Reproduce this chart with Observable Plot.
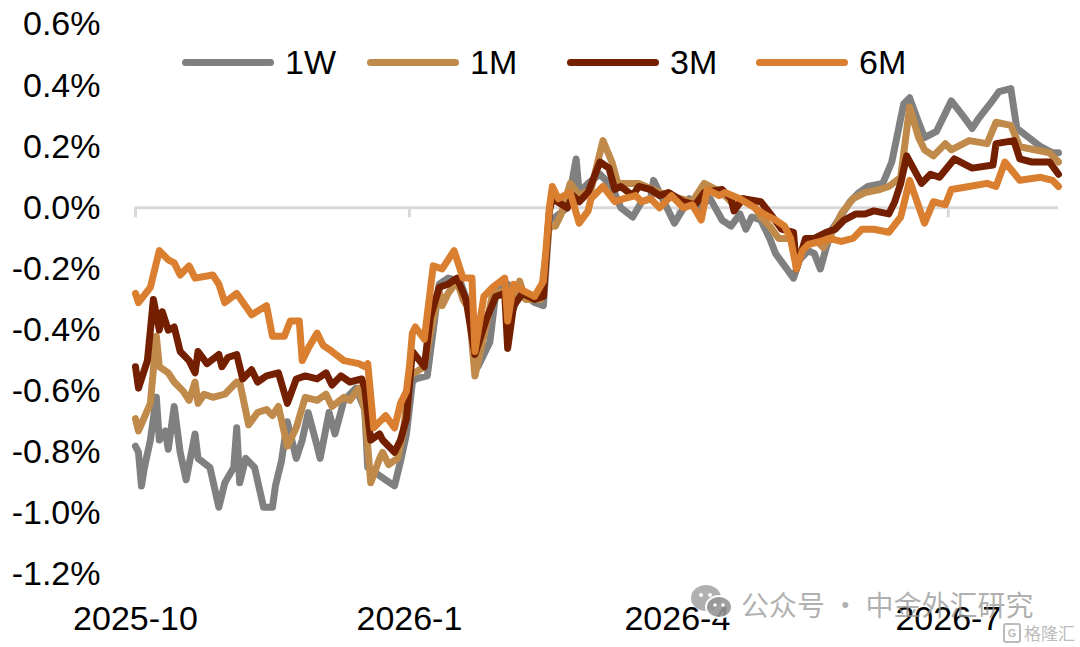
<!DOCTYPE html>
<html><head><meta charset="utf-8">
<script src="https://cdn.jsdelivr.net/npm/d3@7"></script>
<script src="https://cdn.jsdelivr.net/npm/@observablehq/plot@0.6"></script>
<style>
body{margin:0;background:#fff;}
#wrap{position:relative;width:1080px;height:647px;font-family:"Liberation Sans",Arial,sans-serif;overflow:hidden;}
.leg{position:absolute;top:44px;height:36px;display:flex;align-items:center;font-size:34px;color:#000;}
.leg .sw{width:92px;height:7px;border-radius:4px;margin-right:11px;}
.wm{position:absolute;left:741px;top:584px;font-family:"Noto Sans CJK SC",sans-serif;font-size:28px;color:rgba(150,150,150,0.75);white-space:nowrap;}
.wmicon{position:absolute;left:690px;top:584px;}
.glh{position:absolute;left:1003px;top:620px;font-family:"Noto Sans CJK SC",sans-serif;font-size:17px;color:rgba(170,170,170,0.8);display:flex;align-items:center;white-space:nowrap;}
.glh .g{width:14px;height:16px;border:2px solid rgba(170,170,170,0.8);border-radius:3px;font-size:11px;line-height:16px;text-align:center;margin-right:3px;font-family:"Liberation Sans",sans-serif;font-weight:bold;}
</style></head><body><div id="wrap"></div>
<script>
const seriesNames = ["1W", "1M", "3M", "6M"];
const seriesColors = ["#808080", "#C08A4A", "#741F00", "#DA7E2F"];
const xTickLabels = ["2025-10", "2026-1", "2026-4", "2026-7"];
const yTicks = [-1.2, -1.0, -0.8, -0.6, -0.4, -0.2, 0.0, 0.2, 0.4, 0.6];
const yTickLabels = ["-1.2%", "-1.0%", "-0.8%", "-0.6%", "-0.4%", "-0.2%", "0.0%", "0.2%", "0.4%", "0.6%"];
const xStart = "2025-10-01", xEnd = "2026-08-07";

const w1 = [
["2025-10-01",-0.78],["2025-10-02",-0.80],["2025-10-03",-0.91],["2025-10-04",-0.85],["2025-10-06",-0.76],["2025-10-08",-0.62],
["2025-10-09",-0.76],["2025-10-11",-0.73],["2025-10-12",-0.79],["2025-10-14",-0.65],["2025-10-16",-0.80],["2025-10-18",-0.89],
["2025-10-21",-0.74],["2025-10-22",-0.82],["2025-10-26",-0.85],["2025-10-29",-0.98],["2025-10-31",-0.90],["2025-11-03",-0.85],
["2025-11-04",-0.72],["2025-11-05",-0.90],["2025-11-07",-0.82],["2025-11-10",-0.85],["2025-11-13",-0.98],["2025-11-16",-0.98],
["2025-11-17",-0.91],["2025-11-19",-0.83],["2025-11-21",-0.70],["2025-11-24",-0.82],["2025-11-26",-0.76],["2025-11-28",-0.67],
["2025-12-01",-0.78],["2025-12-02",-0.82],["2025-12-05",-0.67],["2025-12-07",-0.74],["2025-12-10",-0.63],["2025-12-14",-0.59],
["2025-12-17",-0.66],["2025-12-18",-0.85],["2025-12-21",-0.87],["2025-12-24",-0.89],["2025-12-27",-0.91],["2025-12-29",-0.83],
["2025-12-31",-0.74],["2026-01-02",-0.57],["2026-01-03",-0.56],["2026-01-07",-0.55],["2026-01-09",-0.40],["2026-01-11",-0.25],
["2026-01-14",-0.23],["2026-01-18",-0.24],["2026-01-21",-0.32],["2026-01-24",-0.52],["2026-01-28",-0.44],["2026-01-30",-0.28],
["2026-02-03",-0.25],["2026-02-05",-0.33],["2026-02-07",-0.27],["2026-02-12",-0.31],["2026-02-15",-0.32],["2026-02-17",-0.04],
["2026-02-19",-0.03],["2026-02-23",0.00],["2026-02-26",0.16],["2026-02-27",0.05],["2026-03-02",0.08],["2026-03-06",0.11],
["2026-03-10",0.07],["2026-03-13",0.00],["2026-03-17",-0.03],["2026-03-20",0.02],["2026-03-23",0.03],["2026-03-24",0.09],
["2026-03-27",0.03],["2026-03-31",-0.05],["2026-04-05",0.03],["2026-04-08",0.00],["2026-04-12",0.03],["2026-04-16",-0.04],
["2026-04-19",-0.06],["2026-04-22",-0.02],["2026-04-24",-0.07],["2026-04-26",-0.03],["2026-04-29",-0.04],["2026-05-02",-0.10],
["2026-05-04",-0.15],["2026-05-07",-0.19],["2026-05-10",-0.23],["2026-05-12",-0.17],["2026-05-15",-0.14],["2026-05-17",-0.15],
["2026-05-19",-0.20],["2026-05-21",-0.13],["2026-05-23",-0.07],["2026-05-25",-0.04],["2026-05-29",0.02],["2026-06-01",0.05],
["2026-06-04",0.07],["2026-06-09",0.08],["2026-06-12",0.15],["2026-06-16",0.34],["2026-06-18",0.36],["2026-06-21",0.28],
["2026-06-23",0.23],["2026-06-27",0.25],["2026-06-30",0.31],["2026-07-02",0.35],["2026-07-06",0.30],["2026-07-09",0.26],
["2026-07-11",0.29],["2026-07-15",0.34],["2026-07-18",0.38],["2026-07-22",0.39],["2026-07-24",0.26],["2026-07-28",0.23],
["2026-08-01",0.20],["2026-08-05",0.18],["2026-08-07",0.18]
];

const m1 = [
["2025-10-01",-0.69],["2025-10-02",-0.73],["2025-10-06",-0.64],["2025-10-08",-0.42],["2025-10-09",-0.52],["2025-10-12",-0.54],
["2025-10-14",-0.57],["2025-10-17",-0.60],["2025-10-19",-0.63],["2025-10-21",-0.57],["2025-10-22",-0.64],["2025-10-24",-0.61],
["2025-10-27",-0.62],["2025-10-31",-0.61],["2025-11-04",-0.57],["2025-11-05",-0.57],["2025-11-08",-0.71],["2025-11-11",-0.67],
["2025-11-14",-0.66],["2025-11-16",-0.68],["2025-11-18",-0.65],["2025-11-21",-0.78],["2025-11-24",-0.72],["2025-11-27",-0.62],
["2025-12-01",-0.63],["2025-12-04",-0.61],["2025-12-06",-0.65],["2025-12-10",-0.62],["2025-12-12",-0.63],["2025-12-15",-0.59],
["2025-12-17",-0.66],["2025-12-19",-0.90],["2025-12-22",-0.82],["2025-12-23",-0.80],["2025-12-25",-0.84],["2025-12-28",-0.82],
["2025-12-30",-0.73],["2026-01-01",-0.55],["2026-01-06",-0.52],["2026-01-08",-0.41],["2026-01-11",-0.27],["2026-01-12",-0.32],
["2026-01-14",-0.28],["2026-01-17",-0.24],["2026-01-19",-0.30],["2026-01-21",-0.33],["2026-01-23",-0.55],["2026-01-26",-0.42],
["2026-01-29",-0.28],["2026-02-03",-0.27],["2026-02-05",-0.32],["2026-02-07",-0.24],["2026-02-09",-0.30],["2026-02-14",-0.30],
["2026-02-17",-0.06],["2026-02-19",-0.06],["2026-02-21",-0.02],["2026-02-24",0.08],["2026-02-27",0.04],["2026-03-03",0.06],
["2026-03-07",0.22],["2026-03-10",0.15],["2026-03-12",0.08],["2026-03-19",0.08],["2026-03-26",0.05],["2026-04-02",0.03],
["2026-04-06",0.02],["2026-04-10",0.08],["2026-04-16",0.05],["2026-04-19",0.02],["2026-04-23",0.03],["2026-04-26",0.02],
["2026-04-29",-0.03],["2026-05-02",-0.06],["2026-05-05",-0.10],["2026-05-09",-0.10],["2026-05-11",-0.18],["2026-05-14",-0.11],
["2026-05-17",-0.10],["2026-05-20",-0.13],["2026-05-23",-0.08],["2026-05-26",-0.02],["2026-05-30",0.03],["2026-06-03",0.05],
["2026-06-08",0.06],["2026-06-11",0.07],["2026-06-15",0.10],["2026-06-18",0.33],["2026-06-21",0.23],["2026-06-23",0.19],
["2026-06-26",0.17],["2026-06-30",0.21],["2026-07-02",0.19],["2026-07-08",0.22],["2026-07-14",0.21],["2026-07-17",0.28],
["2026-07-22",0.27],["2026-07-25",0.20],["2026-07-30",0.19],["2026-08-04",0.18],["2026-08-07",0.15]
];

const m3 = [
["2025-10-01",-0.52],["2025-10-02",-0.59],["2025-10-05",-0.50],["2025-10-07",-0.30],["2025-10-09",-0.40],["2025-10-10",-0.34],
["2025-10-12",-0.40],["2025-10-14",-0.39],["2025-10-16",-0.47],["2025-10-19",-0.50],["2025-10-21",-0.54],["2025-10-22",-0.47],
["2025-10-25",-0.51],["2025-10-29",-0.48],["2025-10-30",-0.52],["2025-11-01",-0.49],["2025-11-04",-0.48],["2025-11-06",-0.56],
["2025-11-09",-0.53],["2025-11-11",-0.57],["2025-11-14",-0.55],["2025-11-18",-0.54],["2025-11-21",-0.64],["2025-11-24",-0.56],
["2025-11-27",-0.55],["2025-12-01",-0.56],["2025-12-04",-0.54],["2025-12-06",-0.58],["2025-12-09",-0.55],["2025-12-12",-0.57],
["2025-12-16",-0.56],["2025-12-17",-0.59],["2025-12-19",-0.76],["2025-12-22",-0.74],["2025-12-23",-0.76],["2025-12-27",-0.80],
["2025-12-29",-0.76],["2025-12-31",-0.69],["2026-01-02",-0.47],["2026-01-06",-0.52],["2026-01-08",-0.36],["2026-01-11",-0.26],
["2026-01-14",-0.25],["2026-01-17",-0.23],["2026-01-20",-0.30],["2026-01-23",-0.48],["2026-01-27",-0.36],["2026-01-30",-0.29],
["2026-02-02",-0.28],["2026-02-03",-0.46],["2026-02-05",-0.32],["2026-02-08",-0.28],["2026-02-12",-0.30],["2026-02-15",-0.29],
["2026-02-17",-0.01],["2026-02-18",0.03],["2026-02-23",0.00],["2026-02-25",0.04],["2026-02-27",0.02],["2026-03-02",0.05],
["2026-03-06",0.15],["2026-03-09",0.13],["2026-03-11",0.06],["2026-03-13",0.07],["2026-03-17",0.04],["2026-03-19",0.07],
["2026-03-23",0.06],["2026-03-26",0.04],["2026-03-29",0.05],["2026-04-03",0.02],["2026-04-07",0.01],["2026-04-10",0.05],
["2026-04-16",0.06],["2026-04-19",0.03],["2026-04-20",-0.01],["2026-04-23",0.03],["2026-04-29",0.02],["2026-05-03",-0.03],
["2026-05-06",-0.07],["2026-05-10",-0.08],["2026-05-11",-0.20],["2026-05-14",-0.10],["2026-05-17",-0.10],["2026-05-21",-0.08],
["2026-05-24",-0.07],["2026-05-27",-0.04],["2026-05-31",-0.02],["2026-06-03",-0.02],["2026-06-06",-0.01],["2026-06-11",-0.02],
["2026-06-13",0.02],["2026-06-15",0.08],["2026-06-17",0.17],["2026-06-22",0.08],["2026-06-25",0.11],["2026-06-28",0.10],
["2026-07-03",0.16],["2026-07-09",0.13],["2026-07-16",0.14],["2026-07-17",0.21],["2026-07-23",0.22],["2026-07-25",0.16],
["2026-07-29",0.15],["2026-08-04",0.15],["2026-08-07",0.11]
];

const m6 = [
["2025-10-01",-0.28],["2025-10-02",-0.31],["2025-10-06",-0.26],["2025-10-09",-0.14],["2025-10-12",-0.17],["2025-10-14",-0.18],
["2025-10-16",-0.22],["2025-10-19",-0.19],["2025-10-21",-0.23],["2025-10-27",-0.22],["2025-10-29",-0.25],["2025-10-31",-0.31],
["2025-11-04",-0.28],["2025-11-09",-0.35],["2025-11-14",-0.32],["2025-11-16",-0.42],["2025-11-20",-0.42],["2025-11-22",-0.37],
["2025-11-25",-0.37],["2025-11-26",-0.50],["2025-11-28",-0.46],["2025-12-01",-0.41],["2025-12-03",-0.45],["2025-12-06",-0.47],
["2025-12-10",-0.50],["2025-12-15",-0.51],["2025-12-17",-0.52],["2025-12-18",-0.51],["2025-12-20",-0.72],["2025-12-24",-0.68],
["2025-12-27",-0.72],["2025-12-29",-0.64],["2025-12-31",-0.60],["2026-01-01",-0.52],["2026-01-02",-0.41],["2026-01-03",-0.39],
["2026-01-06",-0.43],["2026-01-09",-0.19],["2026-01-12",-0.20],["2026-01-16",-0.14],["2026-01-19",-0.23],["2026-01-22",-0.23],
["2026-01-23",-0.47],["2026-01-26",-0.29],["2026-01-29",-0.26],["2026-02-02",-0.23],["2026-02-03",-0.37],["2026-02-05",-0.25],
["2026-02-08",-0.27],["2026-02-12",-0.29],["2026-02-15",-0.24],["2026-02-17",0.00],["2026-02-18",0.07],["2026-02-20",0.03],
["2026-02-24",0.05],["2026-02-27",-0.05],["2026-03-02",-0.01],["2026-03-03",0.03],["2026-03-07",0.07],["2026-03-11",0.02],
["2026-03-14",0.03],["2026-03-18",0.04],["2026-03-20",0.02],["2026-03-23",0.03],["2026-03-26",0.00],["2026-03-30",0.04],
["2026-04-03",0.00],["2026-04-06",0.01],["2026-04-09",-0.04],["2026-04-11",0.06],["2026-04-15",0.04],["2026-04-17",0.05],
["2026-04-22",0.03],["2026-04-27",0.00],["2026-04-30",-0.02],["2026-05-04",-0.04],["2026-05-07",-0.06],["2026-05-09",-0.10],
["2026-05-11",-0.20],["2026-05-13",-0.14],["2026-05-15",-0.12],["2026-05-19",-0.11],["2026-05-22",-0.10],["2026-05-26",-0.11],
["2026-05-30",-0.10],["2026-06-02",-0.07],["2026-06-06",-0.07],["2026-06-11",-0.08],["2026-06-15",-0.03],["2026-06-18",0.09],
["2026-06-23",-0.05],["2026-06-26",0.02],["2026-06-30",0.01],["2026-07-02",0.06],["2026-07-08",0.07],["2026-07-14",0.08],
["2026-07-17",0.07],["2026-07-20",0.15],["2026-07-25",0.09],["2026-08-01",0.10],["2026-08-05",0.09],["2026-08-07",0.07]
];

const seriesData = [w1, m1, m3, m6];
const parseDay = d3.utcParse("%Y-%m-%d");
const tables = seriesData.map((arr, k) => arr.map(([d, v]) => ({series: seriesNames[k], date: parseDay(d), value: v})));
const xTickDates = xTickLabels.map(s => { const [y, m] = s.split("-").map(Number); return new Date(Date.UTC(y, m - 1, 1)); });
const xLabelOf = d => xTickLabels[xTickDates.findIndex(t => t.getTime() === d.getTime())];
const yLabelOf = d => yTickLabels[yTicks.indexOf(d)];

const chart = Plot.plot({
  width: 1080, height: 647,
  marginLeft: 135, marginRight: 22, marginTop: 24, marginBottom: 73,
  style: {fontFamily: "'Liberation Sans', Arial, sans-serif", fontSize: "34px", color: "#000", background: "#fff", overflow: "visible"},
  x: {type: "utc", domain: [parseDay(xStart), parseDay(xEnd)]},
  y: {domain: [yTicks[0], yTicks[yTicks.length - 1]]},
  marks: [
    Plot.ruleY([0], {stroke: "#d9d9d9", strokeWidth: 3}),
    Plot.ruleX(xTickDates, {x: d => d, y1: 0, y2: 0, insetBottom: -10, stroke: "#d9d9d9", strokeWidth: 3}),
    ...tables.map((t, k) => Plot.line(t, {x: "date", y: "value", stroke: seriesColors[k], strokeWidth: 7, strokeLinejoin: "round", strokeLinecap: "round"})),
    Plot.axisY({ticks: yTicks, tickFormat: yLabelOf, tickSize: 0, tickPadding: 35, fontSize: 34, label: null}),
    Plot.axisX({ticks: xTickDates, tickFormat: xLabelOf, tickSize: 0, tickPadding: 31, fontSize: 34, label: null})
  ]
});

const wrap = document.getElementById("wrap");
wrap.appendChild(chart);

const legendLeft = [182, 367, 567, 756];
seriesNames.forEach((name, k) => {
  const el = document.createElement("div");
  el.className = "leg";
  el.style.left = legendLeft[k] + "px";
  el.innerHTML = `<div class="sw" style="background:${seriesColors[k]}"></div><span>${name}</span>`;
  wrap.appendChild(el);
});

const icon = document.createElement("div");
icon.className = "wmicon";
icon.innerHTML = `<svg width="44" height="36" viewBox="0 0 44 36">
<ellipse cx="16" cy="14" rx="15" ry="13" fill="rgba(150,150,150,0.75)"/>
<ellipse cx="29" cy="23" rx="13" ry="11" fill="rgba(150,150,150,0.9)" stroke="#fff" stroke-width="2"/>
<circle cx="11" cy="11" r="2" fill="#fff"/><circle cx="20" cy="11" r="2" fill="#fff"/>
<circle cx="25" cy="21" r="1.8" fill="#fff"/><circle cx="33" cy="21" r="1.8" fill="#fff"/></svg>`;
wrap.appendChild(icon);

const wm = document.createElement("div");
wm.className = "wm";
wm.textContent = "公众号 · 中金外汇研究";
wrap.appendChild(wm);

const glh = document.createElement("div");
glh.className = "glh";
glh.innerHTML = `<div class="g">G</div><span>格隆汇</span>`;
wrap.appendChild(glh);
</script></body></html>
